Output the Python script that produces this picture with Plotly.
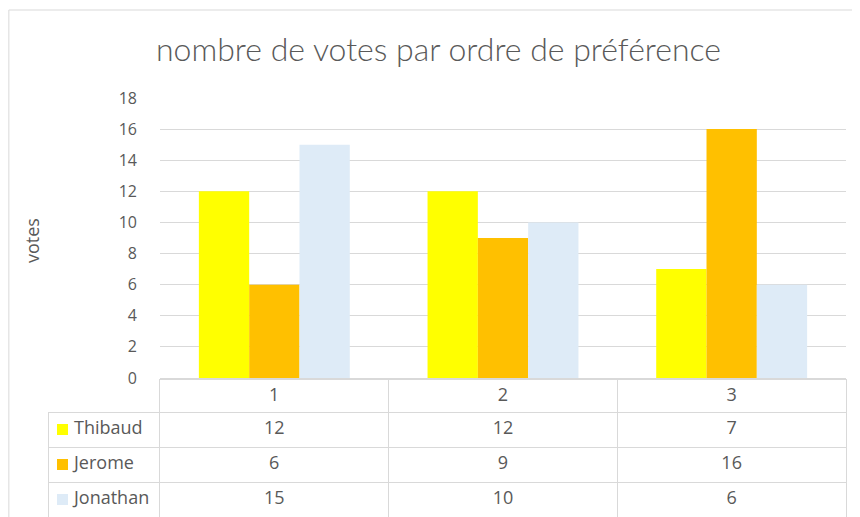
import plotly.graph_objects as go

# ---- data ----
categories = ["1", "2", "3"]
series_names = ["Thibaud", "Jerome", "Jonathan"]
thibaud = [12, 12, 7]
jerome = [6, 9, 16]
jonathan = [15, 10, 6]
series_values = [thibaud, jerome, jonathan]
colors = ["#FFFF00", "#FFC000", "#DEEBF7"]
y_ticks = [0, 2, 4, 6, 8, 10, 12, 14, 16, 18]

# page body has an 8px margin; figure sized so it fits the 860x517 window
OX, OY = 8, 8
W, H = 860 - OX, 517 - OY
FONT = "Open Sans"
TITLE_FONT = "Lato"
TXT = "#595959"
GRID = "#D9D9D9"
CLEAR = "rgba(0,0,0,0)"

def px_x(x):
    return (x - OX) / W

def px_y(y):
    return 1 - (y - OY) / H

fig = go.Figure()
for name, vals, col in zip(series_names, series_values, colors):
    fig.add_trace(go.Bar(x=categories, y=vals, name=name, marker=dict(color=col, line=dict(width=0)),
                         showlegend=False, xaxis="x", yaxis="y"))

# legend keys of the data table (one per row)
fig.add_trace(go.Scatter(
    x=[62.5] * len(series_names), y=[i + 0.5 for i in range(len(series_names))],
    mode="markers", marker=dict(symbol="square", size=11, color=colors, line=dict(width=0)),
    showlegend=False, hoverinfo="skip", xaxis="x2", yaxis="y2"))

# data table below the chart
name_cells = ["\u2003" + n for n in series_names]
columns = [name_cells] + [[series_values[s][i] for s in range(3)] for i in range(3)]
fig.add_trace(go.Table(
    domain=dict(x=[px_x(48), px_x(846)], y=[px_y(517), px_y(379)]),
    columnwidth=[112, 229, 229, 229],
    header=dict(values=[""] + categories, height=33, fill_color=CLEAR,
                line=dict(color=[CLEAR, GRID, GRID, GRID], width=1),
                font=dict(family=FONT, size=18, color=TXT), align="center"),
    cells=dict(values=columns, height=35, fill_color=CLEAR,
               line=dict(color=GRID, width=1),
               font=dict(family=FONT, size=18, color=TXT),
               align=["left", "center", "center", "center"]),
))

fig.update_layout(
    width=W, height=H,
    margin=dict(l=0, r=0, t=0, b=0, autoexpand=False),
    paper_bgcolor="white", plot_bgcolor="white",
    barmode="group", bargap=0.34, bargroupgap=0,
    font=dict(family=FONT, color=TXT),
    xaxis=dict(domain=[px_x(160), px_x(846)], showticklabels=False, showgrid=False,
               showline=True, linecolor=GRID, ticks="", zeroline=False, automargin=False),
    yaxis=dict(domain=[px_y(378), px_y(98)], range=[0, 18], tickvals=y_ticks,
               showgrid=True, gridcolor=GRID, gridwidth=1, zeroline=False,
               showline=False, ticks="", ticklabelstandoff=22, automargin=False,
               tickfont=dict(family=FONT, size=16, color=TXT)),
    xaxis2=dict(domain=[px_x(48), px_x(160)], range=[48, 160], visible=False,
                anchor="y2", automargin=False),
    yaxis2=dict(domain=[px_y(517), px_y(412)], range=[3, 0], visible=False,
                anchor="x2", automargin=False),
    annotations=[
        dict(text="nombre de votes par ordre de préférence", x=px_x(438.5), y=px_y(48),
             xref="paper", yref="paper", xanchor="center", yanchor="middle", showarrow=False,
             font=dict(family=TITLE_FONT, size=32, color=TXT, weight=300)),
        dict(text="votes", x=px_x(32), y=px_y(241), xref="paper", yref="paper",
             xanchor="center", yanchor="middle", textangle=-90, showarrow=False,
             font=dict(family=FONT, size=18, color=TXT)),
    ],
    shapes=[
        dict(type="line", xref="paper", yref="paper", x0=0.001, x1=0.001, y0=0, y1=px_y(10),
             line=dict(color=GRID, width=1)),
        dict(type="line", xref="paper", yref="paper", x0=0.001, x1=1, y0=px_y(10), y1=px_y(10),
             line=dict(color=GRID, width=1)),
    ],
)

fig.write_html("out.html")
